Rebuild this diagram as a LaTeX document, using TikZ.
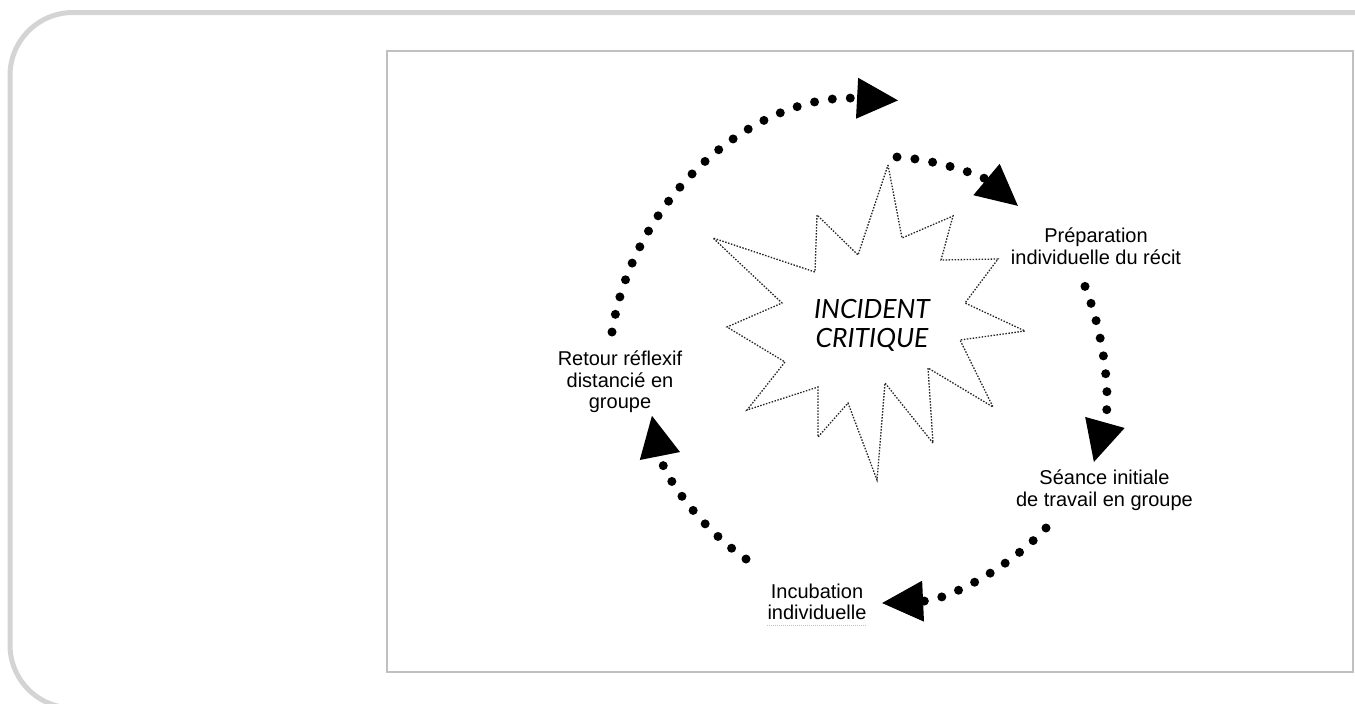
\documentclass[tikz,border=0pt]{standalone}
\usepackage{fontspec}
\setmainfont{Liberation Sans}
\newfontfamily\comicfont{Lato}
\usetikzlibrary{arrows.meta,calc}
\definecolor{frameg}{RGB}{212,212,212}
\definecolor{boxg}{RGB}{192,192,192}
\begin{document}
\begin{tikzpicture}[x=1pt,y=1pt,yscale=-1,
  lab/.style={font=\fontsize{20}{21.5}\selectfont, align=center, inner sep=0pt, anchor=north},
  cyc/.style={line width=9pt, line cap=round, dash pattern=on 0pt off 18pt,
    -{Triangle[length=41pt,width=41pt,line width=0pt]}},
  starline/.style={line width=1.3pt, dash pattern=on 1.5pt off 1.5pt, black!85, line join=miter}]
\useasboundingbox (0,0) rectangle (1355,704);
\begin{scope}
\clip (0,0) rectangle (1355,704);
\draw[line width=5pt, frameg, rounded corners=63pt] (10,12.5) rectangle (1430,708);
\end{scope}
\draw[boxg, line width=2pt] (387,51) rectangle (1352.7,671.7);
% star
\draw[starline] (888,165) -- (902,238) -- (953,216) -- (941,260) -- (998,259) -- (965,303)
  -- (1025,331) -- (960,340) -- (993,407) -- (928,368) -- (933,443) -- (885,383)
  -- (877,480) -- (848,403) -- (818,437) -- (818,387) -- (747,410) -- (785,362)
  -- (727,327) -- (782,303) -- (713,238) -- (815,272) -- (817,215) -- (858,255) -- cycle;
\node[font=\comicfont\itshape\fontsize{26.5}{29}\selectfont, align=center] (ic) at (872,325) {INCIDENT\\CRITIQUE};
% labels
\node[lab] (prep) at (1096,228) {Préparation\\individuelle du récit};
\node[lab] (seance) at (1104.5,470) {Séance initiale\\de travail en groupe};
\node[lab] (retour) at (620,351) {Retour réflexif\\distancié en\\groupe};
\node[lab] (incub) at (817,583.5) {Incubation\\individuelle};
\draw[gray!50, line width=1pt, dash pattern=on 1pt off 1pt]
  ($(incub.south west)+(0,5)$) -- ($(incub.south east)+(0,5)$);
% cycle arrows
\coordinate (s1) at (612,332);
\coordinate (s2) at (897,157);
\coordinate (s3) at (1085,286.4);
\coordinate (s4) at (1046,528);
\coordinate (s5) at (746,559);
\draw[cyc] (s1) arc[start angle=189, end angle=273, radius=275];
\draw[cyc] (s2) arc[start angle=274, end angle=310, radius=211];
\draw[cyc] (s3) arc[start angle=-21.4, end angle=15.6, radius=277];
\draw[cyc] (s4) arc[start angle=43.4, end angle=87.4, radius=240.6];
\draw[cyc] (s5) arc[start angle=124.6, end angle=168.8, radius=227.7];
\end{tikzpicture}
\end{document}
